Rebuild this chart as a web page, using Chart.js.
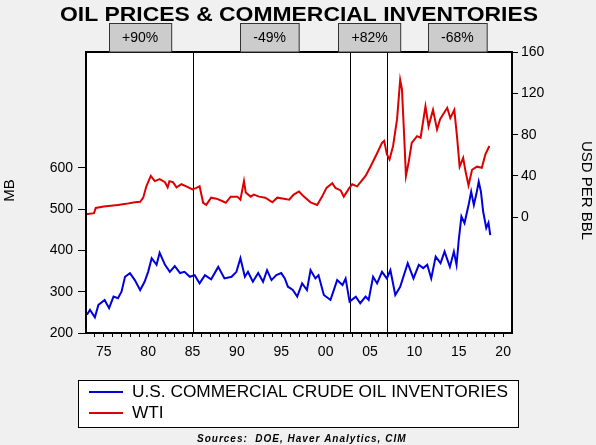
<!DOCTYPE html>
<html>
<head>
<meta charset="utf-8">
<script src="https://cdn.jsdelivr.net/npm/chart.js@4"></script>
<style>
  html, body { margin: 0; padding: 0; background: #f0f0f0; }
  #wrap { width: 596px; height: 445px; position: relative; }
</style>
</head>
<body>
<div id="wrap"><canvas id="oilChart"></canvas></div>
<script>
// Commercial crude oil inventories (MB)
const invYears = [1973.1, 1973.45, 1974.0, 1974.4, 1975.1, 1975.6, 1976.1, 1976.6, 1977.0, 1977.4, 1977.95, 1978.5,
  1979.1, 1979.6, 1980.0, 1980.4, 1980.95, 1981.3, 1981.9, 1982.45, 1983.0, 1983.6, 1984.1, 1984.7, 1985.25, 1985.8,
  1986.4, 1987.1, 1987.9, 1988.6, 1989.4, 1989.95, 1990.4, 1990.9, 1991.25, 1991.8, 1992.4, 1992.95, 1993.4, 1993.9,
  1994.45, 1995.0, 1995.4, 1995.75, 1996.05, 1996.3, 1996.8, 1997.35, 1997.9, 1998.3, 1998.85, 1999.2, 1999.8, 2000.55,
  2001.3, 2001.9, 2002.25, 2002.7, 2003.4, 2003.9, 2004.5, 2004.85, 2005.35, 2005.8, 2006.35, 2006.9, 2007.3, 2007.85,
  2008.4, 2009.25, 2009.9, 2010.5, 2011.0, 2011.45, 2011.9, 2012.4, 2012.95, 2013.4, 2014.0, 2014.45, 2014.75, 2015.0,
  2015.3, 2015.65, 2016.15, 2016.4, 2016.7, 2017.0, 2017.25, 2017.5, 2017.75, 2018.1, 2018.35, 2018.55];
const invValues = [244, 256, 238, 268, 280, 260, 288, 284, 300, 336, 345, 328,
  304, 324, 348, 381, 365, 394, 365, 348, 362, 345, 348, 336, 340, 320,
  340, 330, 360, 332, 336, 348, 381, 336, 348, 324, 345, 324, 352, 328,
  340, 345, 332, 312, 308, 304, 288, 320, 304, 352, 332, 340, 292, 280,
  328, 316, 332, 276, 288, 272, 288, 280, 336, 320, 348, 332, 352, 292,
  312, 369, 332, 365, 357, 365, 332, 385, 369, 397, 360, 397, 365, 425,
  482, 466, 514, 542, 510, 538, 566, 542, 494, 454, 467, 437];

// WTI (USD per barrel)
const wtiYears = [1973.0, 1973.9, 1974.1, 1975.0, 1976.6, 1977.5, 1978.5, 1979.1, 1979.45, 1979.8, 1980.3, 1980.75,
  1981.3, 1981.9, 1982.2, 1982.4, 1982.8, 1983.2, 1983.75, 1984.3, 1985.0, 1985.45, 1985.8, 1986.2, 1986.55, 1987.1,
  1987.7, 1988.4, 1988.75, 1989.3, 1990.05, 1990.4, 1990.8, 1991.0, 1991.55, 1991.9, 1992.5, 1993.2, 1994.0, 1994.55,
  1995.3, 1995.9, 1996.4, 1997.0, 1997.55, 1998.3, 1999.05, 1999.6, 2000.1, 2000.75, 2001.1, 2001.7, 2002.05, 2002.6,
  2003.0, 2003.55, 2004.5, 2005.05, 2005.8, 2006.35, 2006.6, 2006.9, 2007.2, 2007.6, 2008.05, 2008.4, 2008.6, 2008.8,
  2009.05, 2009.35, 2009.7, 2010.3, 2010.7, 2011.25, 2011.6, 2012.1, 2012.55, 2012.9, 2013.7, 2014.05, 2014.5, 2014.8,
  2015.1, 2015.5, 2015.75, 2016.1, 2016.5, 2017.05, 2017.6, 2018.0, 2018.45];
const wtiValues = [3, 4, 9, 10.5, 12, 13, 14.5, 15, 19, 30, 40, 35,
  37, 34, 29, 35, 34, 29, 32, 30, 27, 28.5, 30, 14, 12, 19,
  18, 15.5, 14, 20, 20, 17, 35, 24, 20, 22, 20, 19, 14.5, 19,
  18, 17, 22, 25, 20, 14.5, 12, 20, 28.5, 33, 28.5, 26, 20, 27.5,
  32, 30, 40, 49, 62, 72, 74, 61, 56, 69, 95, 133, 124, 88,
  40, 53, 72, 78.5, 77, 107.5, 88, 104, 85, 95, 106, 96, 104, 78.5,
  49, 57.5, 45, 31, 46, 49, 48, 61, 69];

// tick labels
const leftTicks = [200, 300, 400, 500, 600];
const rightTicks = [0, 40, 80, 120, 160];

// cycle markers and the % change boxes above the chart
const markerYears = [1985, 2002.8, 2006.9];
const changeLabels = ['+90%', '-49%', '+82%', '-68%'];
const changeYears = [1979.1, 1993.7, 2004.95, 2014.85];

const FONT = '"Liberation Sans", Arial, sans-serif';

const toPoints = (xs, ys) => xs.map((x, i) => ({ x: x, y: ys[i] }));

// draw text stretched horizontally so it spans the given width
function wideText(ctx, text, x, y, width) {
  const w = ctx.measureText(text).width;
  ctx.save();
  ctx.translate(x, y);
  ctx.scale(width / w, 1);
  ctx.fillText(text, 0, 0);
  ctx.restore();
}

// draws backgrounds, frame, markers, title, legend, sources
const decorations = {
  id: 'decorations',
  beforeDraw(chart) {
    const { ctx, chartArea: a } = chart;
    ctx.save();
    ctx.fillStyle = '#f0f0f0';
    ctx.fillRect(0, 0, chart.width, chart.height);
    ctx.fillStyle = '#ffffff';
    ctx.fillRect(a.left, a.top, a.right - a.left, a.bottom - a.top);
    ctx.restore();
  },
  beforeDatasetsDraw(chart) {
    const { ctx, chartArea: a, scales } = chart;
    ctx.save();
    ctx.strokeStyle = '#000';
    ctx.lineWidth = 1;
    markerYears.forEach(yr => {
      const x = Math.round(scales.x.getPixelForValue(yr)) + 0.5;
      ctx.beginPath();
      ctx.moveTo(x, a.top);
      ctx.lineTo(x, a.bottom);
      ctx.stroke();
    });
    ctx.restore();
  },
  afterDraw(chart) {
    const { ctx, chartArea: a, scales } = chart;
    ctx.save();

    // frame
    ctx.strokeStyle = '#000';
    ctx.lineWidth = 2;
    ctx.strokeRect(a.left, a.top, a.right - a.left, a.bottom - a.top);

    // % change boxes
    ctx.font = '14px ' + FONT;
    ctx.textAlign = 'center';
    ctx.textBaseline = 'middle';
    changeLabels.forEach((lbl, i) => {
      const cx = scales.x.getPixelForValue(changeYears[i]);
      const w = ctx.measureText(lbl).width + 26;
      const x0 = Math.round(cx - w / 2) + 0.5;
      ctx.fillStyle = '#cccccc';
      ctx.fillRect(x0, 23.5, w, a.top - 23.5);
      ctx.strokeStyle = '#333';
      ctx.lineWidth = 1;
      ctx.strokeRect(x0, 23.5, w, a.top - 23.5);
      ctx.fillStyle = '#000';
      ctx.fillText(lbl, cx, 38);
    });

    // title
    ctx.font = 'bold 20px ' + FONT;
    ctx.textBaseline = 'alphabetic';
    ctx.textAlign = 'left';
    wideText(ctx, 'OIL PRICES & COMMERCIAL INVENTORIES', 60, 21, 478);

    // axis titles
    const midY = (a.top + a.bottom) / 2 - 2;
    ctx.textAlign = 'center';
    ctx.font = '15px ' + FONT;
    ctx.textBaseline = 'middle';
    ctx.save();
    ctx.translate(10, midY);
    ctx.rotate(-Math.PI / 2);
    ctx.fillText('MB', 0, 0);
    ctx.restore();
    ctx.save();
    ctx.translate(586, midY);
    ctx.rotate(Math.PI / 2);
    ctx.fillText('USD PER BBL', 0, 0);
    ctx.restore();

    // legend
    ctx.fillStyle = '#fff';
    ctx.fillRect(78.5, 380.5, 440, 47);
    ctx.strokeStyle = '#000';
    ctx.lineWidth = 1;
    ctx.strokeRect(78.5, 380.5, 440, 47);
    ctx.font = '16px ' + FONT;
    ctx.textAlign = 'left';
    const stretch = 376 / ctx.measureText(chart.data.datasets[0].label).width;
    chart.data.datasets.forEach((ds, i) => {
      const y = 392 + i * 21;
      ctx.strokeStyle = ds.borderColor;
      ctx.lineWidth = 2;
      ctx.beginPath();
      ctx.moveTo(89, y);
      ctx.lineTo(123, y);
      ctx.stroke();
      ctx.fillStyle = '#000';
      wideText(ctx, ds.label, 132, y + 1, ctx.measureText(ds.label).width * stretch);
    });

    // sources
    ctx.font = 'italic bold 10px ' + FONT;
    ctx.textAlign = 'left';
    ctx.letterSpacing = '1px';
    ctx.fillText('Sources:  DOE, Haver Analytics, CIM', 197, 439);
    ctx.restore();
  }
};

new Chart(document.getElementById('oilChart'), {
  type: 'line',
  data: {
    datasets: [
      {
        label: 'U.S. COMMERCIAL CRUDE OIL INVENTORIES',
        data: toPoints(invYears, invValues),
        borderColor: '#0000dd',
        borderWidth: 2,
        pointRadius: 0,
        tension: 0,
        yAxisID: 'y'
      },
      {
        label: 'WTI',
        data: toPoints(wtiYears, wtiValues),
        borderColor: '#dd0000',
        borderWidth: 2,
        pointRadius: 0,
        tension: 0,
        yAxisID: 'y1'
      }
    ]
  },
  options: {
    responsive: true,
    maintainAspectRatio: false,
    animation: false,
    layout: { padding: { top: 52, left: 0, right: 0, bottom: 0 } },
    plugins: { legend: { display: false }, tooltip: { enabled: false }, title: { display: false } },
    scales: {
      x: {
        type: 'linear',
        min: 1973,
        max: 2021,
        afterBuildTicks: s => {
          const t = [];
          for (let yr = 1974; yr <= 2020; yr++) t.push({ value: yr });
          s.ticks = t;
        },
        afterFit: s => { s.height = 112; },
        ticks: {
          autoSkip: false,
          maxRotation: 0,
          padding: 7,
          color: '#000',
          font: { family: FONT, size: 14 },
          callback: v => (v % 5 === 0 ? String(v % 100).padStart(2, '0') : '')
        },
        grid: { drawOnChartArea: false, drawTicks: true, tickLength: 4, color: '#000' },
        border: { display: false }
      },
      y: {
        position: 'left',
        min: 200,
        max: 880,
        afterBuildTicks: s => { s.ticks = leftTicks.map(v => ({ value: v })); },
        afterFit: s => { s.width = 86; },
        ticks: { padding: 5, color: '#000', font: { family: FONT, size: 14 } },
        grid: { drawOnChartArea: false, drawTicks: true, tickLength: 8, color: '#000' },
        border: { display: false }
      },
      y1: {
        position: 'right',
        min: -112,
        max: 160,
        afterBuildTicks: s => { s.ticks = rightTicks.map(v => ({ value: v })); },
        afterFit: s => { s.width = 84; },
        ticks: { padding: 3, color: '#000', font: { family: FONT, size: 14 } },
        grid: { drawOnChartArea: false, drawTicks: true, tickLength: 6, color: '#000' },
        border: { display: false }
      }
    }
  },
  plugins: [decorations]
});
</script>
</body>
</html>
